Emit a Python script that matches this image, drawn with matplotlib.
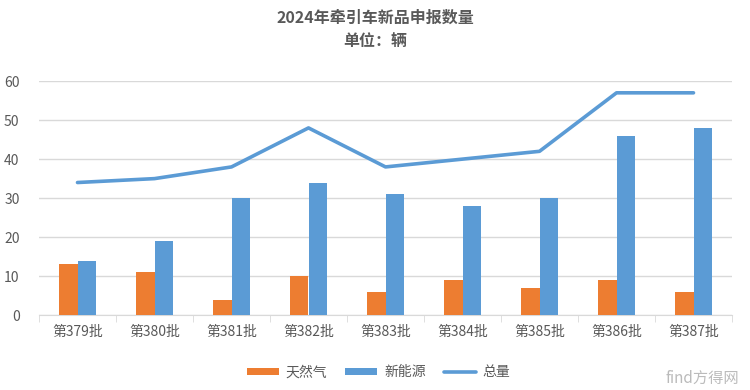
import matplotlib
matplotlib.use("Agg")
import matplotlib.pyplot as plt
import numpy as np

plt.rcParams['font.family'] = ['Noto Sans CJK SC', 'DejaVu Sans']

batches = ["第379批", "第380批", "第381批", "第382批", "第383批",
           "第384批", "第385批", "第386批", "第387批"]
gas = [13, 11, 4, 10, 6, 9, 7, 9, 6]
new_energy = [14, 19, 30, 34, 31, 28, 30, 46, 48]
total = [34, 35, 38, 48, 38, 40, 42, 57, 57]

ORANGE = "#ED7D31"
BLUE = "#5B9BD5"
GRAY = "#595959"

fig = plt.figure(figsize=(7.5, 3.9), dpi=100)
ax = fig.add_axes([0.052, 0.192, 0.924, 0.6])

x = np.arange(len(batches))
w = 0.235
b1 = ax.bar(x - w / 2, gas, w, color=ORANGE, label="天然气", zorder=3)
b2 = ax.bar(x + w / 2, new_energy, w, color=BLUE, label="新能源", zorder=3)
l1, = ax.plot(x, total, color=BLUE, linewidth=2.6, label="总量", zorder=4,
              solid_capstyle="round", solid_joinstyle="round")

ax.set_xlim(-0.5, len(batches) - 0.5)
ax.set_ylim(0, 60)
ax.set_yticks(range(0, 61, 10))
ax.yaxis.grid(True, color="#D9D9D9", linewidth=1)
ax.set_axisbelow(True)

for s in ["top", "right", "left"]:
    ax.spines[s].set_visible(False)
ax.spines["bottom"].set_color("#D9D9D9")

ax.set_xticks(x)
ax.set_xticklabels(batches)
ax.set_xticks(np.arange(-0.5, len(batches)), minor=True)
ax.tick_params(axis="x", which="major", length=0, pad=7, labelsize=10, labelcolor=GRAY)
ax.tick_params(axis="x", which="minor", length=5, color="#D9D9D9")
ax.tick_params(axis="y", length=0, labelsize=10, labelcolor=GRAY, pad=14)

fig.text(0.5, 0.955, "2024年牵引车新品申报数量", ha="center", va="center",
         fontsize=11.5, fontweight="bold", color=GRAY)
fig.text(0.5, 0.895, "单位：辆", ha="center", va="center",
         fontsize=11.5, fontweight="bold", color=GRAY)

ax.legend([b1, b2, l1], ["天然气", "新能源", "总量"],
          loc="center", bbox_to_anchor=(0.49, -0.245), ncol=3, frameon=False,
          fontsize=10, labelcolor=GRAY, handlelength=2.3, handleheight=0.5,
          columnspacing=1.3, handletextpad=0.5)

fig.text(0.985, 0.03, "find方得网", ha="right", va="center",
         fontsize=11, color="#BBBBBB")

fig.savefig("out.png", dpi=100)
